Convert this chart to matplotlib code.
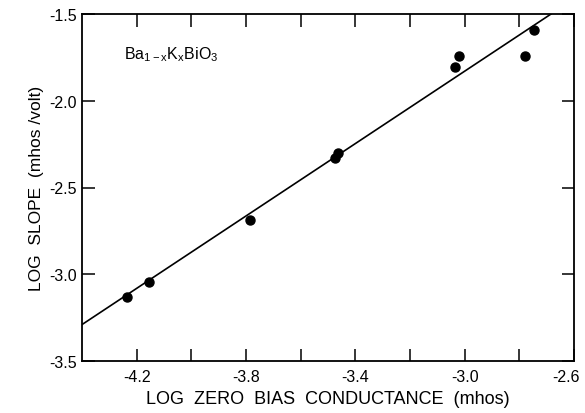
import matplotlib.pyplot as plt
import matplotlib.transforms as mtransforms
import numpy as np

# data
log_g0 = [-4.234, -4.156, -3.786, -3.473, -3.462, -3.037, -3.020, -2.781, -2.747]
log_slope = [-3.134, -3.044, -2.686, -2.332, -2.300, -1.807, -1.740, -1.740, -1.594]

fit_x = [-4.40, -2.684]
fit_y = [-3.29, -1.50]

x_major = [-4.2, -3.8, -3.4, -3.0, -2.6]
x_minor = [-4.0, -3.6, -3.2, -2.8]
y_major = [-3.5, -3.0, -2.5, -2.0, -1.5]

plt.rcParams['font.family'] = ['Liberation Sans', 'DejaVu Sans']
plt.rcParams['mathtext.default'] = 'regular'

fig = plt.figure(figsize=(5.85, 4.14), dpi=100)
ax = fig.add_axes([82/585, 1 - 362/414, 492/585, 347/414])

ax.plot(fit_x, fit_y, color='black', lw=1.2)
ax.plot(log_g0, log_slope, 'o', color='black', ms=6.5)

ax.set_xlim(-4.4, -2.6)
ax.set_ylim(-3.5, -1.5)
ax.set_xticks(x_major)
ax.set_xticklabels(['-%.1f' % abs(v) for v in x_major])
ax.set_xticks(x_minor, minor=True)
ax.set_yticks(y_major)
ax.set_yticklabels(['-%.1f' % abs(v) for v in y_major])

ax.tick_params(which='both', direction='in', top=True, right=True, labelsize=11.5,
               width=1.1, length=9)
ax.tick_params(axis='x', pad=6)
for s in ax.spines.values():
    s.set_linewidth(1.3)

# last x label sits close to the figure edge, nudge it left a bit
last = ax.get_xticklabels()[-1]
last.set_transform(last.get_transform() +
                   mtransforms.ScaledTranslation(-8/100, 0, fig.dpi_scale_trans))

ax.set_xlabel('LOG  ZERO  BIAS  CONDUCTANCE  (mhos)', fontsize=13, labelpad=4)
ax.set_ylabel('LOG  SLOPE  (mhos /volt)', fontsize=12.5, labelpad=4)

ax.text(0.085, 0.885, r'Ba$_{1-x}$K$_x$BiO$_3$', transform=ax.transAxes,
        fontsize=11.5, va='center', ha='left')

fig.savefig('out.png', dpi=100)
